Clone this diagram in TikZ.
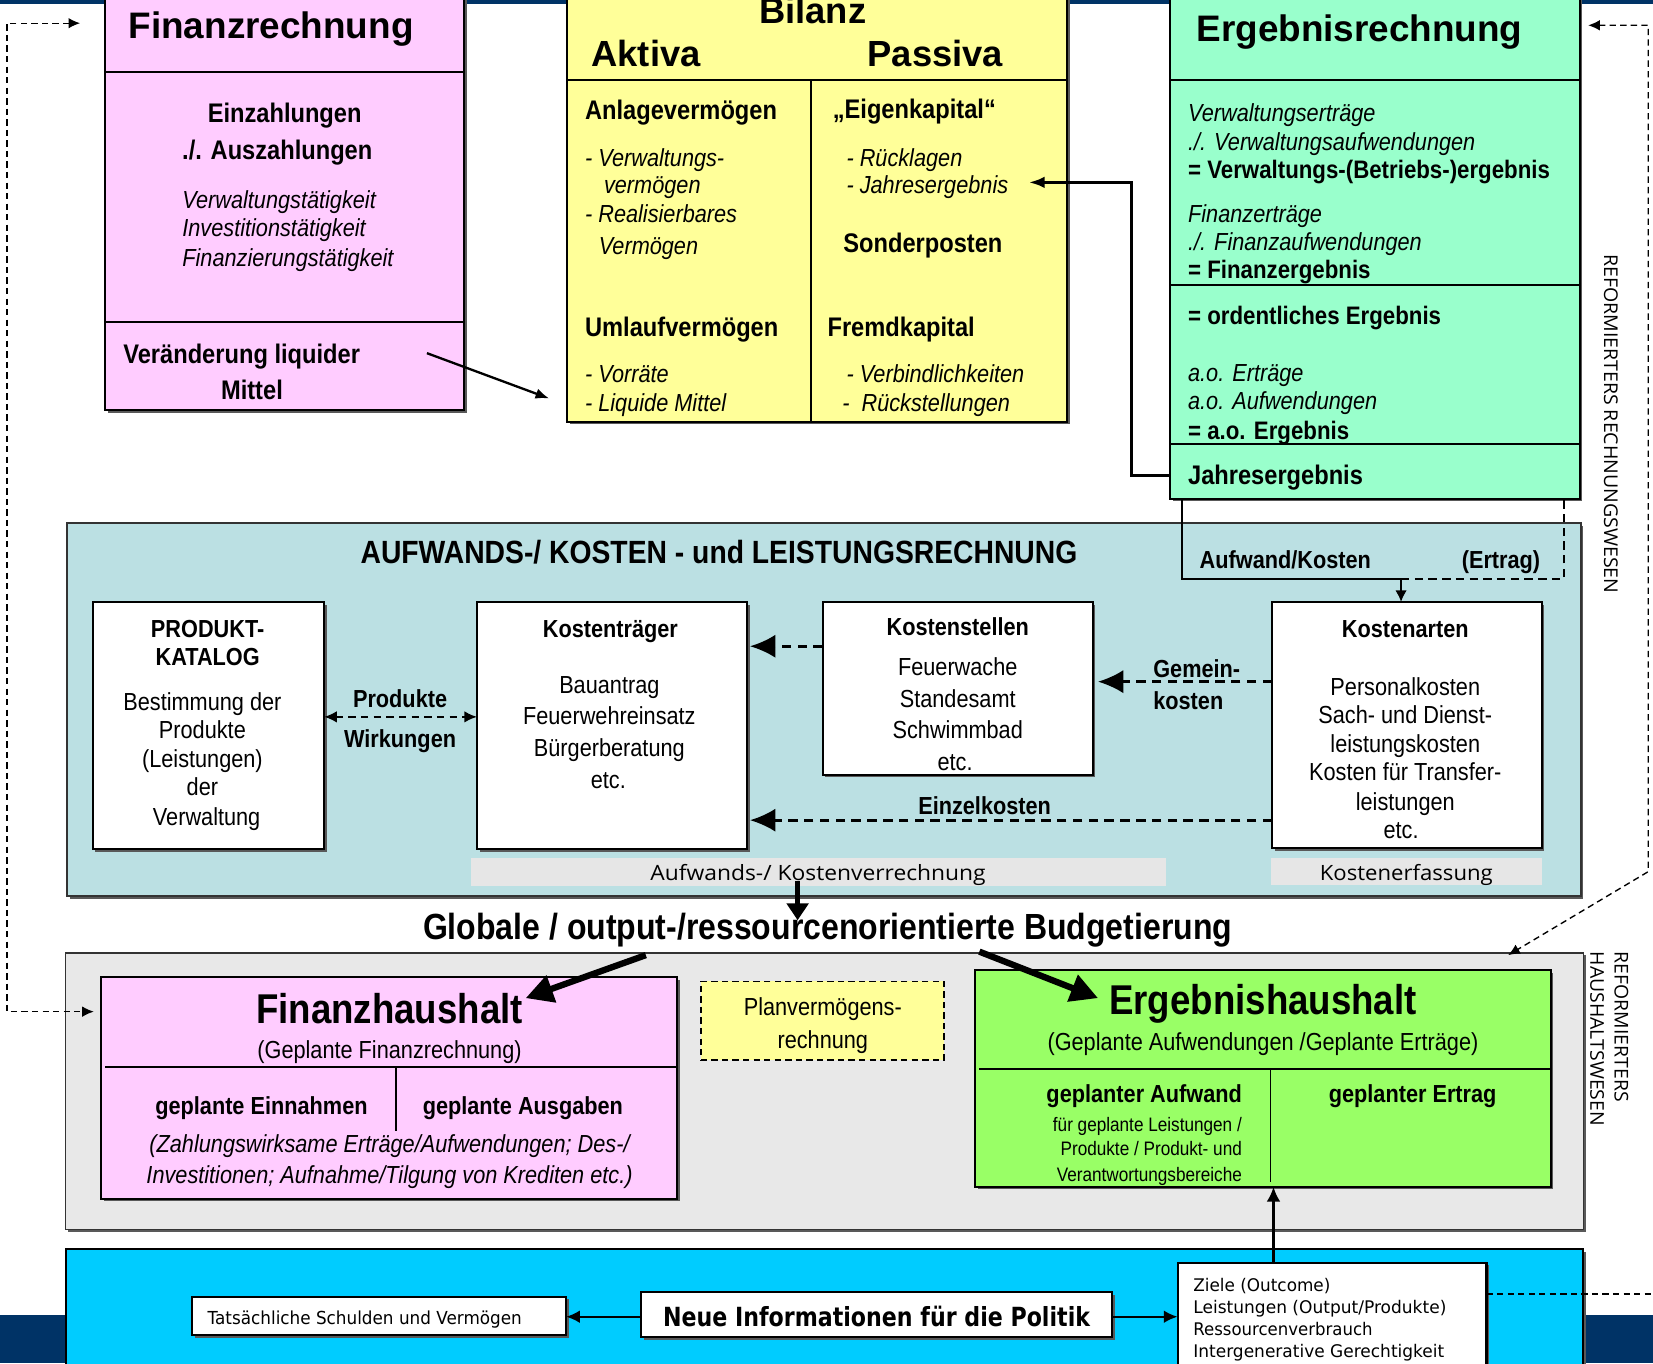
\documentclass[tikz,border=0pt]{standalone}
\usepackage{fontspec}
\usepackage{graphicx}
\setmainfont{Liberation Sans}
\newfontfamily\nar[FakeStretch=0.88]{Liberation Sans}
\newfontfamily\osans{Open Sans}
\newfontfamily\dvs{DejaVu Sans}
\usetikzlibrary{arrows.meta,shadows}
\definecolor{pinkbox}{HTML}{FFCCFF}
\definecolor{yelbox}{HTML}{FFFF99}
\definecolor{mintbox}{HTML}{99FFCC}
\definecolor{aklrbg}{HTML}{BBE0E3}
\definecolor{lgray}{HTML}{E8E8E8}
\definecolor{labgray}{HTML}{E6E6E6}
\definecolor{greenbox}{HTML}{99FF66}
\definecolor{bluebox}{HTML}{00CCFF}
\definecolor{navyband}{HTML}{003366}
\newcommand{\fitw}[2]{\resizebox{#1pt}{\height}{#2}}
\newcommand{\mkbox}[6]{\node[box,#2,minimum width={(#5)-(#3)},minimum height={(#6)-(#4)}] (#1) at (#3,#4) {};}
\begin{document}
\begin{tikzpicture}[x=1pt,y=-1pt,
  T/.style={inner sep=0pt,outer sep=0pt},
  ttl/.style={T,font=\bfseries\fontsize{35}{40}\selectfont},
  ttlb/.style={T,font=\bfseries\fontsize{34.5}{40}\selectfont},
  bn/.style={T,yshift=-6pt,font=\nar\bfseries\fontsize{25.5}{30}\selectfont},
  bs/.style={T,yshift=-6pt,font=\nar\bfseries\fontsize{23.4}{28}\selectfont},
  be/.style={T,yshift=-6pt,font=\nar\bfseries\fontsize{24}{28}\selectfont},
  itx/.style={T,yshift=-6pt,font=\nar\itshape\fontsize{23.4}{28}\selectfont},
  rn/.style={T,yshift=-6pt,font=\nar\fontsize{23.4}{28}\selectfont},
  sn/.style={T,yshift=-5pt,font=\nar\fontsize{18.5}{22}\selectfont},
  bigt/.style={T,yshift=-10pt,font=\nar\bfseries\fontsize{39.5}{44}\selectfont},
  globt/.style={T,yshift=-9pt,font=\nar\bfseries\fontsize{34.5}{40}\selectfont},
  aklrt/.style={T,yshift=-8pt,font=\nar\bfseries\fontsize{30.5}{36}\selectfont},
  lab/.style={T,yshift=-5pt,font=\osans\fontsize{20}{24}\selectfont},
  vert/.style={T,font=\osans\fontsize{18}{22}\selectfont,rotate=-90,anchor=west},
  botx/.style={T,yshift=-4pt,font=\dvs\fontsize{17}{20}\selectfont},
  box/.style={draw=black,line width=2pt,inner sep=0pt,outer sep=0pt,anchor=north west},
  shd/.style={drop shadow={shadow xshift=2.5pt,shadow yshift=-2.5pt,fill=black!65,opacity=1}},
  ln/.style={line width=2pt},
  dar/.style={line width=2.5pt,dash pattern=on 9pt off 6pt,-{Latex[length=24pt,width=22pt]}},
  loopln/.style={line width=1.3pt,dash pattern=on 6pt off 4pt,{Latex[length=11pt,width=10pt]}-{Latex[length=11pt,width=10pt]}},
]
\useasboundingbox (0,0) rectangle (1568,1293);
\clip (0,0) rectangle (1568,1293);
\fill[white] (0,0) rectangle (1568,1293);
% navy bands
\fill[navyband] (0,0) rectangle (1568,3.5);
\fill[navyband] (0,1247.5) rectangle (1568,1293);

% ---------- top boxes ----------
\mkbox{fr}{fill=pinkbox,shd}{100}{-5}{440.4}{389}
\mkbox{bil}{fill=yelbox,shd}{538}{-5}{1012}{400}
\mkbox{er}{fill=mintbox,shd}{1110}{-5}{1498.5}{473}
\draw[ln] (100,68) -- (440.4,68);
\draw[ln] (100,305.5) -- (440.4,305.5);
\draw[ln] (538,76) -- (1012,76);
\draw[ln] (769,76) -- (769,400);
\draw[ln] (1110,76) -- (1498.5,76);
\draw[ln] (1110,270) -- (1498.5,270);
\draw[ln] (1110,421) -- (1498.5,421);

% Finanzrechnung texts
\node[ttl,anchor=base west] (frt) at (122,36.5) {Finanzrechnung};
\node[bn,anchor=mid] (fr1) at (270,108) {Einzahlungen};
\node[bn,anchor=mid] (fr2) at (263,143) {./. Auszahlungen};
\node[itx,anchor=mid west] (fr3) at (173,189) {Verwaltungstätigkeit};
\node[itx,anchor=mid west] (fr4) at (173,216) {Investitionstätigkeit};
\node[itx,anchor=mid west] (fr5) at (173,244) {Finanzierungstätigkeit};
\node[bn,anchor=mid west] (fr6) at (117,336) {Veränderung liquider};
\node[bn,anchor=mid] (fr7) at (239,370) {Mittel};

% Bilanz texts
\node[ttlb,anchor=base] (bt) at (771,22) {Bilanz};
\node[ttlb,anchor=base west] (ba) at (561,63.3) {Aktiva};
\node[ttlb,anchor=base west] (bp) at (823,63.3) {Passiva};
\node[bn,anchor=mid west] (b1) at (555,105) {Anlagevermögen};
\node[itx,anchor=mid west] (b2) at (555,149) {- Verwaltungs-};
\node[itx,anchor=mid west] (b3) at (573,175) {vermögen};
\node[itx,anchor=mid west] (b4) at (555,202) {- Realisierbares};
\node[itx,anchor=mid west] (b5) at (568,233) {Vermögen};
\node[bn,anchor=mid west] (b6) at (555,311) {Umlaufvermögen};
\node[itx,anchor=mid west] (b7) at (555,354) {- Vorräte};
\node[itx,anchor=mid west] (b8) at (555,382) {- Liquide Mittel};
\node[bn,anchor=mid west] (b9) at (790,104) {„Eigenkapital“};
\node[itx,anchor=mid west] (b10) at (803,149) {- Rücklagen};
\node[itx,anchor=mid west] (b11) at (803,175) {- Jahresergebnis};
\node[bn,anchor=mid west] (b12) at (800,231) {Sonderposten};
\node[bn,anchor=mid west] (b13) at (785,311) {Fremdkapital};
\node[itx,anchor=mid west] (b14) at (803,354) {- Verbindlichkeiten};
\node[itx,anchor=mid west] (b15) at (799,382) {-~~Rückstellungen};

% Ergebnisrechnung texts
\node[ttl,anchor=base west] (et) at (1135,39.5) {Ergebnisrechnung};
\node[itx,anchor=mid west] (e1) at (1127,107) {Verwaltungserträge};
\node[itx,anchor=mid west] (e2) at (1127,134) {./. Verwaltungsaufwendungen};
\node[be,anchor=mid west] (e3) at (1127,161) {= Verwaltungs-(Betriebs-)ergebnis};
\node[itx,anchor=mid west] (e4) at (1127,202) {Finanzerträge};
\node[itx,anchor=mid west] (e5) at (1127,229) {./. Finanzaufwendungen};
\node[be,anchor=mid west] (e6) at (1127,256) {= Finanzergebnis};
\node[be,anchor=mid west] (e7) at (1127,299) {= ordentliches Ergebnis};
\node[itx,anchor=mid west] (e8) at (1127,353) {a.o. Erträge};
\node[itx,anchor=mid west] (e9) at (1127,380) {a.o. Aufwendungen};
\node[be,anchor=mid west] (e10) at (1127,408) {= a.o. Ergebnis};
\node[bn,anchor=mid west] (e11) at (1127,451) {Jahresergebnis};

\node[vert] (rw) at (1528,241) {\fitw{322}{REFORMIERTERS RECHNUNGSWESEN}};

% ---------- AKLR ----------
\node[box,draw=black!80,line width=1.8pt,fill=aklrbg,shd,minimum width={1499.4-63.5},minimum height={850-496}] (aklr) at (63.5,496) {};
\node[aklrt,anchor=mid] (at) at (682,524) {AUFWANDS-/ KOSTEN - und LEISTUNGSRECHNUNG};
\node[bs,anchor=mid west] (aw) at (1138,531) {Aufwand/Kosten};
\node[bs,anchor=mid east] (ae) at (1461,531) {(Ertrag)};

\mkbox{pk}{fill=white,shd}{88}{571}{307.5}{805.5}
\mkbox{kt}{fill=white,shd}{452.5}{571}{708.5}{805.5}
\mkbox{ks}{fill=white,shd}{780.5}{571}{1036.5}{735}
\mkbox{ka}{fill=white,shd}{1206.6}{571}{1462.4}{804.6}
\node[box,draw=none,fill=labgray,minimum width={1105.7-446.5},minimum height={840.5-814}] (lab1) at (446.5,814) {};
\node[box,draw=none,fill=labgray,minimum width={1463-1205.3},minimum height={839.5-814}] (lab2) at (1205.3,814) {};
\node[lab,anchor=mid] (lab1t) at (776,828) {\fitw{318}{Aufwands-/ Kostenverrechnung}};
\node[lab,anchor=mid] (lab2t) at (1334,828) {\fitw{164}{Kostenerfassung}};

\node[bs,anchor=mid] (pk1) at (197,596) {PRODUKT-};
\node[bs,anchor=mid] (pk2) at (197,623) {KATALOG};
\node[rn,anchor=mid] (pk3) at (192,665) {Bestimmung der};
\node[rn,anchor=mid] (pk4) at (192,692) {Produkte};
\node[rn,anchor=mid] (pk5) at (192,719) {(Leistungen)};
\node[rn,anchor=mid] (pk6) at (192,746) {der};
\node[rn,anchor=mid] (pk7) at (196,774) {Verwaltung};

\node[bs,anchor=mid] (pw1) at (379.5,662) {Produkte};
\node[bs,anchor=mid] (pw2) at (379.5,700) {Wirkungen};

\node[bs,anchor=mid] (kt1) at (579,596) {Kostenträger};
\node[rn,anchor=mid] (kt2) at (578,649) {Bauantrag};
\node[rn,anchor=mid] (kt3) at (578,679) {Feuerwehreinsatz};
\node[rn,anchor=mid] (kt4) at (578,709) {Bürgerberatung};
\node[rn,anchor=mid] (kt5) at (577,739) {etc.};

\node[bs,anchor=mid] (ks1) at (908.5,594) {Kostenstellen};
\node[rn,anchor=mid] (ks2) at (908.5,632) {Feuerwache};
\node[rn,anchor=mid] (ks3) at (908.5,662) {Standesamt};
\node[rn,anchor=mid] (ks4) at (908.5,692) {Schwimmbad};
\node[rn,anchor=mid] (ks5) at (906,722) {etc.};

\node[bs,anchor=mid] (ka1) at (1333,596) {Kostenarten};
\node[rn,anchor=mid] (ka2) at (1333,651) {Personalkosten};
\node[rn,anchor=mid] (ka3) at (1333,678) {Sach- und Dienst-};
\node[rn,anchor=mid] (ka4) at (1333,705) {leistungskosten};
\node[rn,anchor=mid] (ka5) at (1333,732) {Kosten für Transfer-};
\node[rn,anchor=mid] (ka6) at (1333,760) {leistungen};
\node[rn,anchor=mid] (ka7) at (1329,787) {etc.};

\node[bs,anchor=mid west] (gk1) at (1094,634) {Gemein-};
\node[bs,anchor=mid west] (gk2) at (1094,664) {kosten};
\node[bs,anchor=mid] (ezk) at (934,764) {Einzelkosten};

% ---------- Globale ----------
\node[globt,anchor=mid] (glob) at (785,880) {Globale / output-/ressourcenorientierte Budgetierung};

% ---------- Haushalt ----------
\node[box,draw=black!80,line width=1.6pt,fill=lgray,shd,minimum width={1502-62},minimum height={1166.4-903.7}] (hh) at (62,903.7) {};
\mkbox{fh}{fill=pinkbox,shd}{95.8}{927}{642.4}{1137}
\mkbox{eh}{fill=greenbox,shd}{925}{920}{1471}{1125.7}
\node[box,fill=yelbox,line width=1.5pt,dash pattern=on 6pt off 4pt,minimum width={895.5-664.8},minimum height={1005.5-931}] (pv) at (664.8,931) {};
\draw[ln] (100,1012) -- (642.4,1012);
\draw[line width=1.5pt] (375.5,1012) -- (375.5,1072.6);
\draw[ln] (929,1014) -- (1471,1014);
\draw[line width=1.5pt] (1205.3,1014) -- (1205.3,1121);

\node[bigt,anchor=mid] (fht) at (369.5,958) {Finanzhaushalt};
\node[rn,anchor=mid] (fh1) at (369.5,995) {(Geplante Finanzrechnung)};
\node[bs,anchor=mid] (fh2) at (248,1049) {geplante Einnahmen};
\node[bs,anchor=mid] (fh3) at (496,1049) {geplante Ausgaben};
\node[itx,anchor=mid] (fh4) at (369.5,1085) {(Zahlungswirksame Erträge/Aufwendungen; Des-/};
\node[itx,anchor=mid] (fh5) at (369.5,1114) {Investitionen; Aufnahme/Tilgung von Krediten etc.)};

\node[rn,anchor=mid] (pv1) at (780.5,955) {Planvermögens-};
\node[rn,anchor=mid] (pv2) at (780.5,986) {rechnung};

\node[bigt,anchor=mid] (eht) at (1198,950) {Ergebnishaushalt};
\node[rn,anchor=mid] (eh1) at (1198,988) {(Geplante Aufwendungen /Geplante Erträge)};
\node[bs,anchor=mid east] (eh2) at (1178,1037) {geplanter Aufwand};
\node[sn,anchor=mid east] (eh3) at (1178,1065.5) {für geplante Leistungen /};
\node[sn,anchor=mid east] (eh4) at (1178,1088) {Produkte / Produkt- und};
\node[sn,anchor=mid east] (eh5) at (1178,1113) {Verantwortungsbereiche};
\node[bs,anchor=mid] (eh6) at (1340,1037) {geplanter Ertrag};

\node[vert] (rh1) at (1538,903) {\fitw{142}{REFORMIERTERS}};
\node[vert] (rh2) at (1515,903) {\fitw{165}{HAUSHALTSWESEN}};

% ---------- bottom ----------
\node[box,fill=bluebox,shd,minimum width={1502-63},minimum height={1300-1184.8}] (blue) at (63,1184.8) {};
\mkbox{ts}{fill=white,shd}{182}{1230}{537}{1266.4}
\mkbox{ni}{fill=white,shd}{608}{1225.6}{1055}{1268.4}
\mkbox{zi}{fill=white,shd}{1117}{1197.7}{1410}{1300}
\node[botx,yshift=-1pt,anchor=mid west] (tst) at (197,1249) {\fitw{298}{Tatsächliche Schulden und Vermögen}};
\node[T,yshift=-8pt,font=\dvs\bfseries\fontsize{25}{30}\selectfont,anchor=mid] (nit) at (831.5,1248) {\fitw{405}{Neue Informationen für die Politik}};
\node[botx,font=\dvs\fontsize{16.5}{20}\selectfont,anchor=mid west] (zi1) at (1132,1218) {\fitw{130}{Ziele (Outcome)}};
\node[botx,font=\dvs\fontsize{16.5}{20}\selectfont,anchor=mid west] (zi2) at (1132,1239) {\fitw{240}{Leistungen (Output/Produkte)}};
\node[botx,font=\dvs\fontsize{16.5}{20}\selectfont,anchor=mid west] (zi3) at (1132,1260) {\fitw{170}{Ressourcenverbrauch}};
\node[botx,font=\dvs\fontsize{16.5}{20}\selectfont,anchor=mid west] (zi4) at (1132,1281) {\fitw{238}{Intergenerative Gerechtigkeit}};

% ---------- connectors ----------
\coordinate (vlA) at (405,335);
\coordinate (vlB) at (521,378);
\draw[line width=2.2pt,-{Latex[length=13pt,width=10pt]}] (vlA) -- (vlB);

\coordinate (jeA) at (er.west |- 0,451);
\coordinate (jeB) at (976,173);
\draw[line width=2.8pt,-{Latex[length=15pt,width=11pt]}] (jeA) -- (1073.5,451) -- (1073.5,173) -- (jeB);

\draw[line width=1.8pt] (er.south -| 1121.5,0) -- (1121.5,549) -- (1329,549);
\draw[line width=1.8pt,dash pattern=on 8pt off 5pt] (1329,549) -- (1483.5,549) -- (er.south -| 1483.5,0);
\draw[line width=1.8pt,-{Latex[length=11pt,width=11pt]}] (1329,549) -- (ka.north -| 1329,0);

\draw[line width=2pt,dash pattern=on 7pt off 5pt,{Latex[length=12pt,width=11pt]}-{Latex[length=12pt,width=11pt]}] (pk.east |- 0,680) -- (kt.west |- 0,680);

\draw[dar,shorten >=3pt] (ks.west |- 0,613) -- (kt.east |- 0,613);
\draw[dar,shorten >=5pt] (ka.west |- 0,646.6) -- (ks.east |- 0,646.6);
\draw[dar,shorten >=3pt] (ka.west |- 0,778) -- (kt.east |- 0,778);

\coordinate (gA) at (756.6,836);
\coordinate (gB) at (756.6,873);
\draw[line width=5pt,-{Triangle[length=16pt,width=20pt]}] (gA) -- (gB);
\coordinate (gF1) at (612.6,906);
\coordinate (gF2) at (498.6,946.8);
\draw[line width=6pt,-{Triangle[length=26pt,width=26pt]}] (gF1) -- (gF2);
\coordinate (gE1) at (929,902.7);
\coordinate (gE2) at (1041.6,946.8);
\draw[line width=6pt,-{Triangle[length=26pt,width=26pt]}] (gE1) -- (gE2);

\coordinate (lT) at (76,22);
\coordinate (lB) at (89,959.6);
\draw[loopln] (lT) -- (6.8,22) -- (6.8,959.6) -- (lB);
\coordinate (rT) at (1506.5,24);
\coordinate (rB) at (1430.6,906);
\draw[loopln] (rT) -- (1563.5,24) -- (1563.5,826.8) -- (rB);
\coordinate (brE) at (1568,1227.5);
\draw[line width=1.3pt,dash pattern=on 6pt off 4pt] (zi.east |- 0,1227.5) -- (brE);

\draw[line width=2pt,-{Latex[length=13pt,width=12pt]}] (ni.west |- 0,1249) -- (ts.east |- 0,1249);
\draw[line width=2pt,-{Latex[length=13pt,width=12pt]}] (ni.east |- 0,1249) -- (zi.west |- 0,1249);
\draw[line width=3.5pt,-{Latex[length=14pt,width=13pt]}] (zi.north -| 1208,0) -- (eh.south -| 1208,0);
\end{tikzpicture}
\end{document}
